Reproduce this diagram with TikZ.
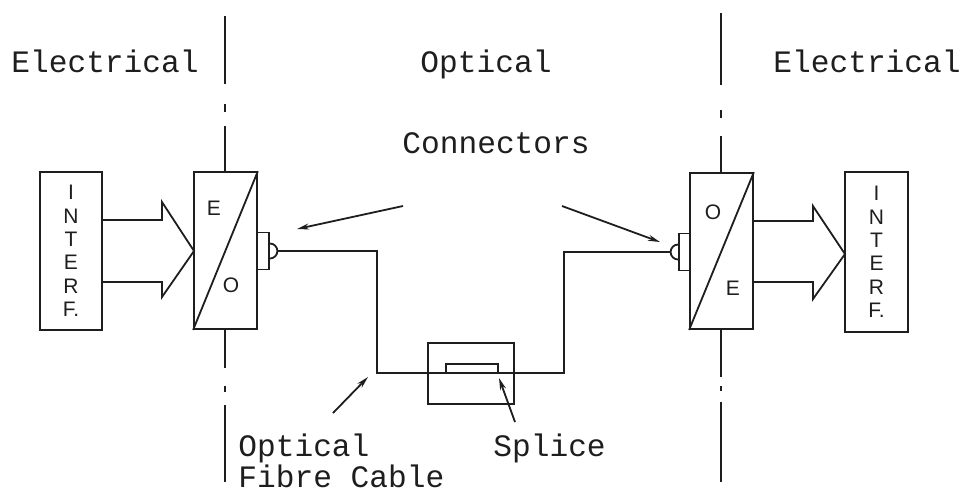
\documentclass[tikz,border=0pt]{standalone}
\usepackage{fontspec}
\setmainfont{Liberation Mono}
\newfontfamily\lettersans{Liberation Sans}
\usetikzlibrary{arrows.meta,positioning}
\definecolor{ink}{HTML}{1E1E1E}
\tikzset{
  unitbox/.style={draw=ink,line width=0.9pt,inner sep=0pt},
  plugbox/.style={draw=ink,line width=0.9pt,inner sep=0pt,
                  minimum width=6pt,minimum height=18.5pt},
  caption/.style={text=ink,inner sep=0pt,font=\fontsize{15.6}{18}\selectfont},
  letter/.style={text=ink,inner sep=0pt,align=center,
                 font=\lettersans\fontsize{10.5}{11.7}\selectfont},
  fatarr/.style={draw=ink,line width=0.9pt,line join=miter},
  fibre/.style={draw=ink,line width=0.9pt},
  pointer/.style={-{Stealth[length=6pt,width=3pt]},line width=0.9pt,draw=ink},
  border/.style={draw=ink,line width=0.8pt}
}

\begin{document}
\begin{tikzpicture}[x=0.5pt,y=-0.5pt]
    \path[use as bounding box] (0,0) rectangle (966,495);
    % domain boundaries
    \draw[border] (225,16) -- (225,84) (225,104) -- (225,112) (225,126) -- (225,172);
    \draw[border] (225,329) -- (225,368) (225,386) -- (225,392) (225,405) -- (225,482);
    \draw[border] (721,13) -- (721,85) (721,110) -- (721,118) (721,136) -- (721,173);
    \draw[border] (721,330) -- (721,377) (721,386) -- (721,391) (721,402) -- (721,482);
    \node[caption,anchor=base west] (elecL) at (11,72) {Electrical};
    \node[caption,anchor=base] (optreg) at (486,72) {Optical};
    \node[caption,anchor=base west] (elecR) at (773,72) {Electrical};
    % transmitter side
    \node[unitbox,minimum width=31pt,minimum height=79pt,fill=white] (ifL) at (71,251) {};
    \node[letter] at (ifL) {I\\N\\T\\E\\R\\F.};
    \node[unitbox,minimum width=31.5pt,minimum height=78.5pt,fill=white] (eo) at (225.5,250.5) {};
    \draw[fibre] (eo.south west) -- (eo.north east);
    \node[letter] at (214,208) {E};
    \node[letter] at (231,285) {O};
    \draw[fatarr] (102,220) -- (162,220) -- (162,202) -- (194,251)
      -- (162,297) -- (162,282) -- (102,282);
    \node[plugbox] (plugL) at (263,251) {};
    \draw[fibre] ([yshift=3.75pt]plugL.east) arc[start angle=90,end angle=-90,radius=3.75pt];
    \coordinate (tipL) at ([xshift=3.75pt]plugL.east);
    % receiver side
    \node[unitbox,minimum width=31.5pt,minimum height=78pt,fill=white] (oe) at (721.5,251) {};
    \draw[fibre] (oe.south west) -- (oe.north east);
    \node[letter] at (713,212) {O};
    \node[letter] at (733,288) {E};
    \node[unitbox,minimum width=31.5pt,minimum height=80pt] (ifR) at (876.5,252) {};
    \node[letter] at (ifR) {I\\N\\T\\E\\R\\F.};
    \draw[fatarr] (753,221) -- (813,221) -- (813,206) -- (845,254)
      -- (813,299) -- (813,282) -- (753,282);
    \node[plugbox,minimum width=5.5pt] (plugR) at (684.5,252) {};
    \draw[fibre] ([yshift=3.75pt]plugR.west) arc[start angle=90,end angle=270,radius=3.75pt];
    \coordinate (tipR) at ([xshift=-3.75pt]plugR.west);
    % cable and splice
    \coordinate (bendL) at (377,373);
    \coordinate (bendR) at (564,373);
    \draw[fibre] (tipL) -| (bendL) -- (bendR) |- (tipR);
    \node[unitbox,minimum width=43pt,minimum height=30.5pt] (splice) at (471,373.5) {};
    \draw[fibre] (446,373) |- (498,364) -- (498,373);
    % labels
    \node[caption,anchor=base west] (conn) at (402,153) {Connectors};
    \coordinate (cStartL) at (403,206);
    \coordinate (cTipL) at (297,229);
    \coordinate (cStartR) at (562,206);
    \coordinate (cTipR) at (660,242);
    \draw[pointer] (cStartL) -- (cTipL);
    \draw[pointer] (cStartR) -- (cTipR);
    \node[caption,anchor=base west] (cable1) at (238,456) {Optical};
    \node[caption,anchor=base west] (cable2) at (238,487) {Fibre Cable};
    \node[caption,anchor=base west] (splname) at (493,456) {Splice};
    \coordinate (fStart) at (333,413);
    \coordinate (fTip) at (368,377);
    \draw[pointer] (fStart) -- (fTip);
    \coordinate (sStart) at (515,422);
    \coordinate (sTip) at (499,378);
    \draw[pointer] (sStart) -- (sTip);
  \end{tikzpicture}
\end{document}
